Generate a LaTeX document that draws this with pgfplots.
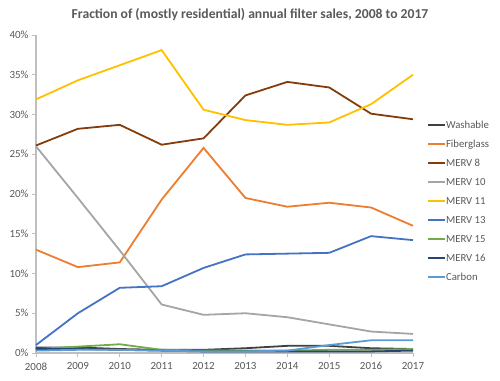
\documentclass[border=0pt]{standalone}
\usepackage{pgfplots}
\pgfplotsset{compat=1.18}
\usepackage{fontspec}
\setmainfont{Carlito}
\definecolor{cWash}{HTML}{404040}
\definecolor{cFib}{HTML}{ED7D31}
\definecolor{cM8}{HTML}{843C0C}
\definecolor{cM10}{HTML}{A5A5A5}
\definecolor{cM11}{HTML}{FFC000}
\definecolor{cM13}{HTML}{4472C4}
\definecolor{cM15}{HTML}{70AD47}
\definecolor{cM16}{HTML}{264478}
\definecolor{cCarb}{HTML}{5B9BD5}
\definecolor{txt}{HTML}{595959}
\definecolor{axc}{HTML}{BFBFBF}
\begin{document}
\begin{tikzpicture}
\path[use as bounding box] (-36bp,-28bp) rectangle (464bp,353bp);
\begin{axis}[
  at={(0,0)}, anchor=origin,
  scale only axis, width=377bp, height=318bp,
  xmin=2008, xmax=2017, ymin=0, ymax=40,
  axis x line=bottom, axis y line=left,
  axis line style={axc, line width=1.2bp, -},
  xtick={2008,...,2017}, ytick={0,5,...,40},
  yticklabel={\pgfmathprintnumber{\tick}\%},
  /pgf/number format/assume math mode=true,
  tick label style={font=\fontsize{11}{13}\selectfont, text=txt},
  major tick length=4bp,
  tick style={axc, line width=0.8bp},
  tick align=outside,
  xticklabel style={/pgf/number format/1000 sep={}, yshift=-2bp},
  clip=false,
  legend style={at={(rel axis cs:1.037,0.733)}, anchor=north west, draw=none, fill=none,
    inner sep=0pt, nodes={inner sep=0pt, text height=8bp, text depth=2.5bp},
    font=\fontsize{10.8}{12}\selectfont, text=txt, row sep=8.5bp,
    /tikz/every even column/.append style={column sep=2bp}},
  legend cell align=left,
  legend image code/.code={\draw[#1, line width=1.9bp] (0bp,0.5bp) -- (17bp,0.5bp);},
  every axis plot/.append style={line width=1.8bp, mark=none},
]
\addplot[cWash] coordinates {(2008,0.7)(2009,0.7)(2010,0.5)(2011,0.4)(2012,0.4)(2013,0.6)(2014,0.9)(2015,0.9)(2016,0.6)(2017,0.5)};
\addlegendentry{Washable}
\addplot[cFib] coordinates {(2008,13.0)(2009,10.8)(2010,11.4)(2011,19.3)(2012,25.8)(2013,19.5)(2014,18.4)(2015,18.9)(2016,18.3)(2017,16.0)};
\addlegendentry{Fiberglass}
\addplot[cM8] coordinates {(2008,26.1)(2009,28.2)(2010,28.7)(2011,26.2)(2012,27.0)(2013,32.4)(2014,34.1)(2015,33.4)(2016,30.1)(2017,29.4)};
\addlegendentry{MERV 8}
\addplot[cM10] coordinates {(2008,26.0)(2009,19.5)(2010,12.9)(2011,6.1)(2012,4.8)(2013,5.0)(2014,4.5)(2015,3.6)(2016,2.7)(2017,2.4)};
\addlegendentry{MERV 10}
\addplot[cM11] coordinates {(2008,31.9)(2009,34.3)(2010,36.2)(2011,38.1)(2012,30.6)(2013,29.3)(2014,28.7)(2015,29.0)(2016,31.3)(2017,35.0)};
\addlegendentry{MERV 11}
\addplot[cM13] coordinates {(2008,1.0)(2009,5.0)(2010,8.2)(2011,8.4)(2012,10.7)(2013,12.4)(2014,12.5)(2015,12.6)(2016,14.7)(2017,14.2)};
\addlegendentry{MERV 13}
\addplot[cM15] coordinates {(2008,0.5)(2009,0.8)(2010,1.1)(2011,0.4)(2012,0.3)(2013,0.3)(2014,0.3)(2015,0.4)(2016,0.4)(2017,0.5)};
\addlegendentry{MERV 15}
\addplot[cM16] coordinates {(2008,0.5)(2009,0.5)(2010,0.4)(2011,0.3)(2012,0.2)(2013,0.2)(2014,0.2)(2015,0.2)(2016,0.2)(2017,0.3)};
\addlegendentry{MERV 16}
\addplot[cCarb] coordinates {(2008,0.3)(2009,0.4)(2010,0.4)(2011,0.3)(2012,0.2)(2013,0.2)(2014,0.3)(2015,1.0)(2016,1.6)(2017,1.6)};
\addlegendentry{Carbon}
\end{axis}
\node[font=\bfseries\fontsize{13.7}{16}\selectfont, text=txt] at (214bp,338bp) {Fraction of (mostly residential) annual filter sales, 2008 to 2017};
\end{tikzpicture}
\end{document}
